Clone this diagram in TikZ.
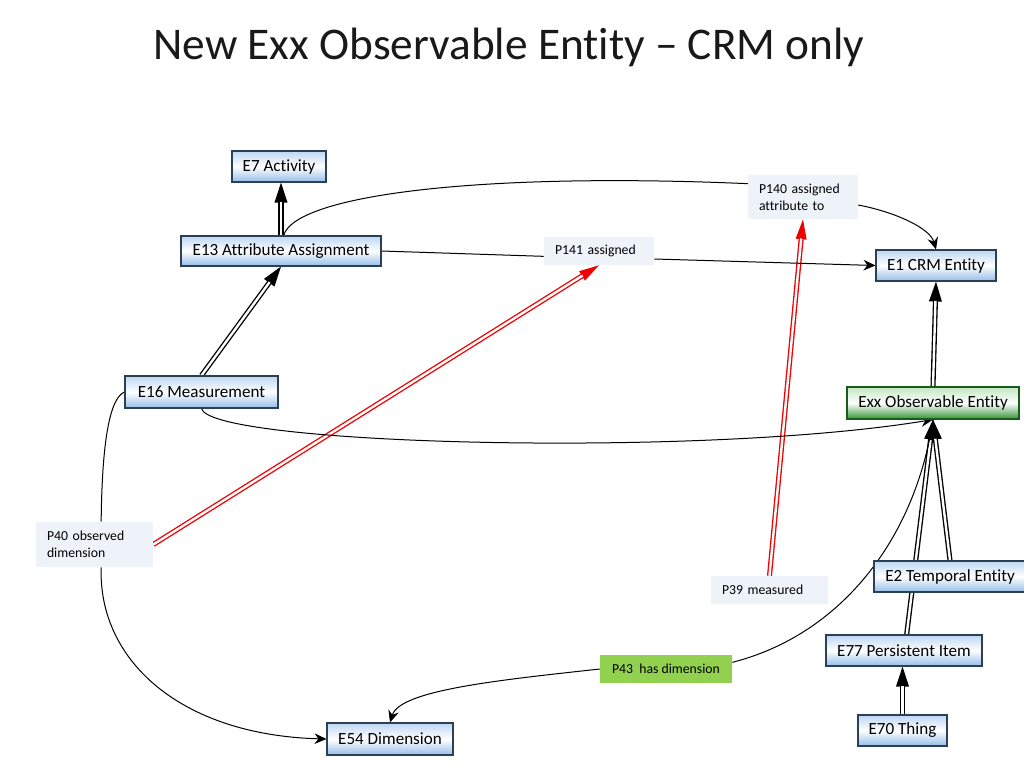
\documentclass[tikz,border=0pt]{standalone}
\usepackage{fontspec}
\setmainfont{Carlito}[Ligatures=NoCommon]
\usetikzlibrary{arrows.meta,backgrounds,calc}
\definecolor{bxtop}{HTML}{BDD6F2}
\definecolor{bxbot}{HTML}{94BDE8}
\definecolor{bxline}{HTML}{2B3F55}
\definecolor{gxtop}{HTML}{C2E6C2}
\definecolor{gxbot}{HTML}{339433}
\definecolor{gxline}{HTML}{1A5A1A}
\definecolor{lblfill}{HTML}{EEF3FA}
\definecolor{pgreen}{HTML}{92D050}
\definecolor{redline}{HTML}{F00000}
\newcommand\dblarrow[4]{\draw[#1] #3 -- #4; \draw[#2] #3 -- #4;}
\begin{document}
\begin{tikzpicture}[x=0.75pt,y=-0.75pt,
  wh/.style 2 args={minimum width=#1*0.75pt, minimum height=#2*0.75pt},
  ebox/.style={draw=bxline, line width=0.8pt, top color=bxtop, bottom color=bxbot, middle color=white,
    inner sep=0pt, font=\fontsize{12.8}{15}\selectfont},
  gbox/.style={draw=gxline, line width=0.8pt, top color=gxtop, bottom color=gxbot, middle color=white,
    inner sep=0pt, font=\fontsize{12.8}{15}\selectfont},
  lbl/.style={fill=lblfill, inner xsep=8.25pt, inner ysep=0pt, align=left,
    font=\fontsize{10.3}{12.75}\selectfont},
  glbl/.style={fill=pgreen, inner sep=0pt, font=\fontsize{10.3}{12.75}\selectfont},
  isatip/.style={black, line width=1pt, -{Triangle[length=15pt,width=9.5pt]}},
  isadbl/.style={black, line width=1pt, double=white, double distance=1.8pt, shorten >=14.5pt},
  redtip/.style={redline, line width=1pt, -{Triangle[length=15pt,width=8pt]}},
  reddbl/.style={redline, line width=1pt, double=white, double distance=1.8pt, shorten >=14.5pt},
  rel/.style={black, line width=0.75pt, -{Stealth[length=9pt,width=8pt,inset=3pt]}},
  relplain/.style={black, line width=0.75pt}
]
\useasboundingbox (0,0) rectangle (1024,768);

\node[font=\fontsize{34}{40}\selectfont, text=black!90] (title) at (509,47) {New Exx Observable Entity – CRM only};

% class boxes
\node[ebox, wh={94}{31}] (e7) at (279,166.5) {E7 Activity};
\node[ebox, wh={200}{30}] (e13) at (281,251) {E13 Attribute Assignment};
\node[ebox, wh={120}{31}] (e1) at (936,265.5) {E1 CRM Entity};
\node[gbox, wh={172}{32}] (exx) at (933,403) {Exx Observable Entity};
\node[ebox, wh={153}{32}] (e16) at (201.5,392) {E16 Measurement};
\node[ebox, wh={152}{31}] (e2) at (950,576.5) {E2 Temporal Entity};
\node[ebox, wh={156}{31}] (e77) at (904,650.5) {E77 Persistent Item};
\node[ebox, wh={89}{31}] (e70) at (902.5,730.5) {E70 Thing};
\node[ebox, wh={126}{32}] (e54) at (390,739) {E54 Dimension};

% property labels
\node[lbl, wh={117}{45}, text width=71.25pt] (p40) at (94.5,544.5) {P40 observed\\dimension};
\node[lbl, wh={110}{28}, text width=66pt] (p141) at (599,251) {P141 assigned};
\node[lbl, wh={110}{44}, text width=66pt] (p140) at (803,197) {P140 assigned\\attribute to};
\node[lbl, wh={117}{28}, text width=71.25pt] (p39) at (769.5,590) {P39 measured};
\node[glbl, wh={132}{28}] (p43) at (666,669) {P43\ \ has dimension};

\begin{pgfonlayer}{background}
\fill[white] (0,0) rectangle (1024,768);
% isA links
\dblarrow{isatip}{isadbl}{(e13.north)}{(e13.north |- e7.south)}
\dblarrow{isatip}{isadbl}{(e16.north)}{(e13.south)}
\dblarrow{isatip}{isadbl}{(exx.north)}{(e1.south)}
\dblarrow{isatip}{isadbl}{([xshift=2pt]e77.north)}{(exx.south)}
\dblarrow{isatip}{isadbl}{(e2.north)}{(exx.south)}
\dblarrow{isatip}{isadbl}{(e70.north)}{(e70.north |- e77.south)}
% sub-property links
\dblarrow{redtip}{reddbl}{(p40.east)}{(p141.south)}
\dblarrow{redtip}{reddbl}{(p39.north)}{(p140.south)}
% properties
\draw[relplain] ([xshift=2pt]e13.north) .. controls (295,195) and (480,172) .. ([yshift=10pt]p140.west);
\draw[rel] ([yshift=-6pt]p140.east) .. controls (895,212) and (930,228) .. (e1.north);
\draw[relplain] (e13.east) -- ([yshift=-4pt]p141.west);
\draw[rel] ([yshift=-6pt]p141.east) -- (e1.west);
\draw[rel] (e16.south) .. controls (210,445) and (700,458) .. (exx.south);
\draw[relplain] (e16.west) .. controls (110,398) and (102,440) .. ([xshift=5pt]p40.north);
\draw[rel] ([xshift=5pt]p40.south) .. controls (98,660) and (180,735) .. (e54.west);
\draw[relplain] ([yshift=5pt]p43.east) .. controls (840,635) and (915,540) .. (exx.south);
\draw[rel] (p43.west) .. controls (500,680) and (400,690) .. (e54.north);
\end{pgfonlayer}
\end{tikzpicture}
\end{document}
